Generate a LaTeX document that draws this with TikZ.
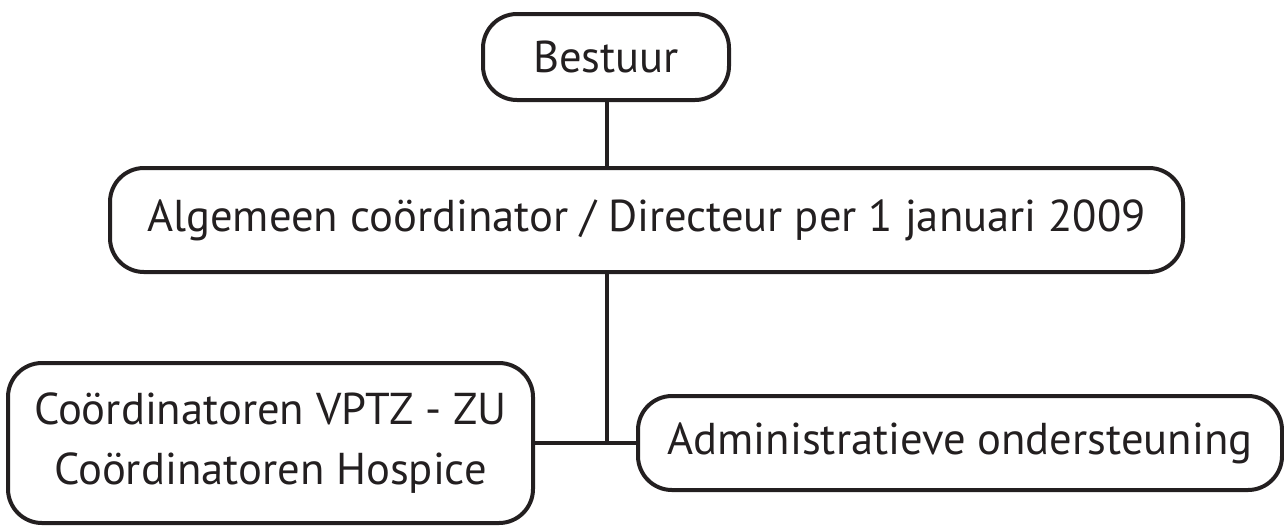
\documentclass[tikz,border=0pt]{standalone}
\usepackage{fontspec}
\setmainfont{PT Sans}
\definecolor{ink}{RGB}{35,31,32}
\begin{document}
\begin{tikzpicture}[x=0.5pt,y=-0.5pt,
        box/.style={draw=ink, text=ink, line width=2pt, rounded corners=17pt, inner sep=0pt, align=center, font=\fontsize{22.3}{30}\selectfont},
        link/.style={draw=ink, line width=2pt}]
        \useasboundingbox (0,0) rectangle (1284,526);
        \node[box, minimum width=123pt, minimum height=43pt] (bestuur) at (606,57) {Bestuur};
        \node[box, minimum width=536.5pt, minimum height=52pt] (coord) at (646.5,220) {Algemeen coördinator / Directeur per 1 januari 2009};
        \node[box, minimum width=262.5pt, minimum height=80pt] (vptz) at (270.5,443) {Coördinatoren VPTZ - ZU\\Coördinatoren Hospice};
        \node[box, minimum width=322pt, minimum height=47pt] (admin) at (960,443) {Administratieve ondersteuning};
        \coordinate (split) at (607,443);
        \draw[link] (bestuur.south -| split) -- (coord.north -| split);
        \draw[link] (coord.south -| split) -- (split);
        \draw[link] (vptz.east) -- (admin.west);
\end{tikzpicture}
\end{document}
